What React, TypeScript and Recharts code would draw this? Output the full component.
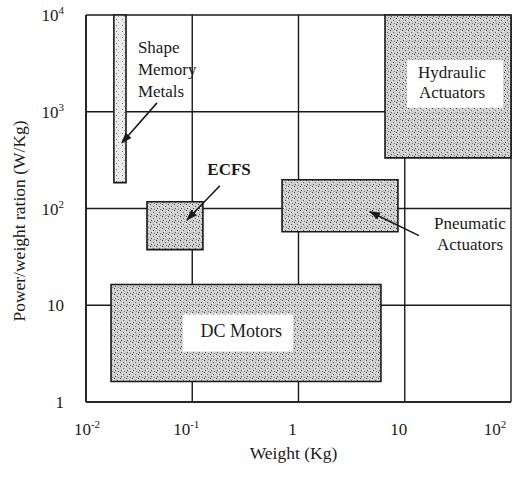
import React from 'react';
import {
  ComposedChart,
  XAxis,
  YAxis,
  CartesianGrid,
  ReferenceArea,
  ReferenceDot,
  ReferenceLine,
} from 'recharts';

const SERIF = '"Liberation Serif", "Times New Roman", serif';
const INK = '#1a1a1a';

const xTicks = [0.01, 0.1, 1, 10, 100];
const xTickBase = ['10', '10', '1', '10', '10'];
const xTickExp = ['-2', '-1', '', '', '2'];

const yTicks = [1, 10, 100, 1000, 10000];
const yTickBase = ['1', '10', '10', '10', '10'];
const yTickExp = ['', '', '2', '3', '4'];

// actuator families: weight range (Kg) x power/weight range (W/Kg)
const regions = [
  { name: 'Shape Memory Metals', x1: 0.0183, x2: 0.0238, y1: 185, y2: 10000 },
  { name: 'ECFS', x1: 0.0375, x2: 0.126, y1: 37.6, y2: 117.5 },
  { name: 'Pneumatic Actuators', x1: 0.7, x2: 8.63, y1: 57.6, y2: 198 },
  { name: 'Hydraulic Actuators', x1: 6.52, x2: 100, y1: 334, y2: 10000 },
  { name: 'DC Motors', x1: 0.0172, x2: 5.97, y1: 1.63, y2: 16.4 },
];

// white patches behind the labels that sit inside a region
const labelBoxes = [
  { name: 'Hydraulic Actuators', x1: 10.5, x2: 84.1, y1: 1097, y2: 3432 },
  { name: 'DC Motors', x1: 0.0819, x2: 0.887, y1: 3.33, y2: 8.02 },
];

const notes = [
  { name: 'smm', x: 0.0308, y: 4055, lines: ['Shape', 'Memory', 'Metals'] },
  { name: 'ecfs', x: 0.222, y: 223, lines: ['ECFS'] },
  { name: 'pneu', x: 41.1, y: 61.9, lines: ['Pneumatic', 'Actuators'] },
  { name: 'hyd', x: 27.9, y: 2239, lines: ['Hydraulic', 'Actuators'] },
  { name: 'dc', x: 0.29, y: 4.75, lines: ['DC Motors'] },
];

const arrows = [
  { from: { x: 0.0466, y: 1236 }, to: { x: 0.0218, y: 478 } },
  { from: { x: 0.182, y: 172 }, to: { x: 0.0894, y: 76.6 } },
  { from: { x: 13.6, y: 52.4 }, to: { x: 4.71, y: 92.7 } },
];

const noteStyle: Record<string, { anchor: string; size: number; bold?: boolean; gap: number }> = {
  smm: { anchor: 'start', size: 17, gap: 22 },
  ecfs: { anchor: 'middle', size: 17, bold: true, gap: 20 },
  pneu: { anchor: 'middle', size: 17, gap: 21 },
  hyd: { anchor: 'middle', size: 17, gap: 20 },
  dc: { anchor: 'middle', size: 18, gap: 20 },
};

const XTick = (props: any) => {
  const { x, y, index } = props;
  const dx = index === 0 ? 1 : -6;
  return (
    <text x={x + dx} y={y + 33} textAnchor="middle" style={{ fontFamily: SERIF }} fontSize={17} fill={INK}>
      {xTickBase[index]}
      {xTickExp[index] && (
        <tspan dy={-7} fontSize={11}>
          {xTickExp[index]}
        </tspan>
      )}
    </text>
  );
};

const YTick = (props: any) => {
  const { x, y, index } = props;
  return (
    <text x={x - 22} y={y + 6} textAnchor="end" style={{ fontFamily: SERIF }} fontSize={17} fill={INK}>
      {yTickBase[index]}
      {yTickExp[index] && (
        <tspan dy={-7} fontSize={11}>
          {yTickExp[index]}
        </tspan>
      )}
    </text>
  );
};

const XTitle = (props: any) => {
  const { viewBox } = props;
  return (
    <text
      x={viewBox.x + viewBox.width / 2 - 5}
      y={viewBox.y + 57}
      textAnchor="middle"
      style={{ fontFamily: SERIF }}
      fontSize={17.5}
      fill={INK}
    >
      Weight (Kg)
    </text>
  );
};

const YTitle = (props: any) => {
  const { viewBox } = props;
  const cx = viewBox.x + 19;
  const cy = 221;
  return (
    <text
      x={cx}
      y={cy}
      transform={`rotate(-90 ${cx} ${cy})`}
      textAnchor="middle"
      dominantBaseline="central"
      style={{ fontFamily: SERIF }}
      fontSize={17.5}
      fill={INK}
    >
      Power/weight ration (W/Kg)
    </text>
  );
};

const Note = (name: string, lines: string[]) => (props: any) => {
  const st = noteStyle[name];
  return (
    <text
      x={props.cx}
      y={props.cy}
      textAnchor={st.anchor}
      style={{ fontFamily: SERIF }}
      fontSize={st.size}
      fontWeight={st.bold ? 'bold' : 'normal'}
      fill={INK}
    >
      {lines.map((l, i) => (
        <tspan key={i} x={props.cx} dy={i === 0 ? 0 : st.gap}>
          {l}
        </tspan>
      ))}
    </text>
  );
};

const Arrow = (props: any) => (
  <line
    x1={props.x1}
    y1={props.y1}
    x2={props.x2}
    y2={props.y2}
    stroke={INK}
    strokeWidth={1.6}
    markerEnd="url(#arrowHead)"
  />
);

export default function App() {
  return (
    <div style={{ position: 'absolute', left: 0, top: 0, background: '#fff' }}>
      <ComposedChart
        width={513}
        height={477}
        margin={{ top: 15, right: 2, bottom: 0, left: 0 }}
      >
        <defs>
          <pattern id="stipple" width="6" height="6" patternUnits="userSpaceOnUse">
            <rect width="6" height="6" fill="#cfcfcf" />
            <rect x="0" y="0" width="1" height="1" fill="#3a3a3a" />
            <rect x="3" y="2" width="1" height="1" fill="#5a5a5a" />
            <rect x="1" y="4" width="1" height="1" fill="#4a4a4a" />
            <rect x="4" y="5" width="1" height="1" fill="#7a7a7a" />
            <rect x="5" y="1" width="1" height="1" fill="#f8f8f8" />
            <rect x="2" y="3" width="1" height="1" fill="#f4f4f4" />
          </pattern>
          <pattern id="sparse" width="6" height="6" patternUnits="userSpaceOnUse">
            <rect width="6" height="6" fill="#ececec" />
            <rect x="2" y="1" width="1" height="1" fill="#777" />
            <rect x="4" y="4" width="1" height="1" fill="#999" />
          </pattern>
          <marker
            id="arrowHead"
            markerWidth="11"
            markerHeight="8"
            refX="10"
            refY="4"
            orient="auto"
            markerUnits="userSpaceOnUse"
          >
            <path d="M0,0 L11,4 L0,8 z" fill={INK} />
          </marker>
        </defs>
        <CartesianGrid stroke={INK} strokeWidth={1.4} />
        <XAxis
          type="number"
          dataKey="x"
          scale="log"
          domain={[0.01, 100]}
          ticks={xTicks}
          allowDataOverflow
          height={75}
          tickLine={false}
          tickSize={0}
          tickMargin={0}
          axisLine={{ stroke: INK, strokeWidth: 1.6 }}
          tick={<XTick />}
          label={<XTitle />}
        />
        <YAxis
          type="number"
          dataKey="y"
          scale="log"
          domain={[1, 10000]}
          ticks={yTicks}
          allowDataOverflow
          width={86}
          tickLine={false}
          tickSize={0}
          tickMargin={0}
          axisLine={{ stroke: INK, strokeWidth: 1.6 }}
          tick={<YTick />}
          label={<YTitle />}
        />
        {regions.map((r) => (
          <ReferenceArea
            key={r.name}
            x1={r.x1}
            x2={r.x2}
            y1={r.y1}
            y2={r.y2}
            fill={r.name === 'Shape Memory Metals' ? 'url(#sparse)' : 'url(#stipple)'}
            fillOpacity={1}
            stroke={INK}
            strokeWidth={1.6}
            isAnimationActive={false}
          />
        ))}
        {labelBoxes.map((b) => (
          <ReferenceArea
            key={'box-' + b.name}
            x1={b.x1}
            x2={b.x2}
            y1={b.y1}
            y2={b.y2}
            fill="#ffffff"
            fillOpacity={1}
            stroke="none"
          />
        ))}
        {arrows.map((a, i) => (
          <ReferenceLine
            key={'arrow-' + i}
            segment={[a.from, a.to]}
            shape={<Arrow />}
          />
        ))}
        {notes.map((n) => (
          <ReferenceDot
            key={n.name}
            x={n.x}
            y={n.y}
            r={0}
            shape={Note(n.name, n.lines)}
          />
        ))}
      </ComposedChart>
    </div>
  );
}
